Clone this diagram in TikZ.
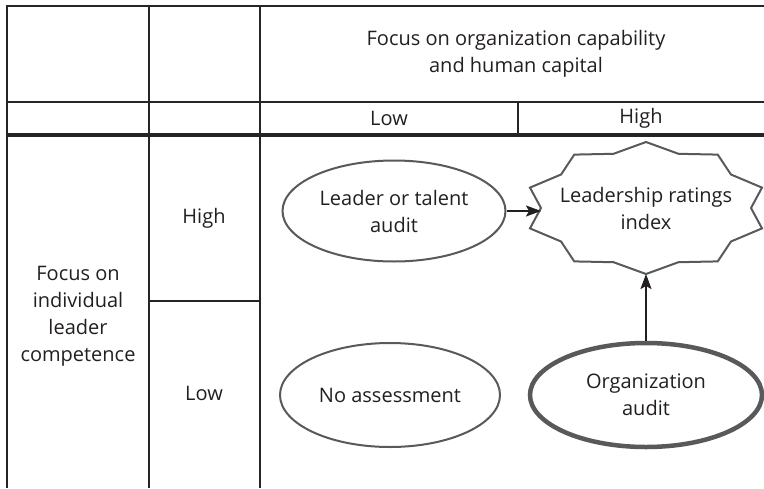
\documentclass[tikz,border=0pt]{standalone}
\usepackage{fontspec}
\setmainfont{Open Sans}
\usetikzlibrary{arrows.meta,shapes.geometric}
\definecolor{ink}{HTML}{231F20}
\definecolor{rule}{HTML}{262425}
\definecolor{outline}{HTML}{58595B}
\begin{document}
\begin{tikzpicture}[x=1pt,y=-1pt,
  grid/.style={draw=rule, line width=2pt},
  heavygrid/.style={draw=rule, line width=3.2pt},
  txt/.style={font=\fontsize{20}{27}\selectfont, text=ink, align=center, inner sep=0pt},
  oval/.style={txt, ellipse, draw=outline, line width=2pt, fill=white},
  boldoval/.style={oval, line width=4.5pt},
  starline/.style={draw=outline, line width=2pt, line join=miter},
  link/.style={draw=ink, line width=1.8pt, -{Stealth[length=15pt,width=11pt,inset=3pt]}}
]
\useasboundingbox (0,0) rectangle (764,488);

% table rules
\draw[grid] (7,6) -- (764,6);
\draw[grid] (7,102) -- (764,102);
\draw[heavygrid] (7,135) -- (764,135);
\draw[grid] (7,5) -- (7,488);
\draw[grid] (149,5) -- (149,488);
\draw[grid] (260,5) -- (260,488);
\draw[grid] (518,102) -- (518,135);
\draw[grid] (149,301) -- (260,301);

% headings
\node[txt] (colhead) at (516,54) {Focus on organization capability\\and human capital};
\node[txt] (collow) at (389,118) {Low};
\node[txt] (colhigh) at (641,118) {High};
\node[txt] (rowhigh) at (204,218) {High};
\node[txt] (rowlow) at (204,393) {Low};
\node[txt] (rowhead) at (78,316) {Focus on\\individual\\leader\\competence};

% assessment types
\node[oval, minimum width=223pt, minimum height=101pt] (lta) at (394,211) {Leader or talent\\audit};
\node[oval, minimum width=220pt, minimum height=104pt] (none) at (390,395) {No assessment};
\node[boldoval, minimum width=232pt, minimum height=104pt] (oa) at (646,395) {Organization\\audit};

% ten-pointed star round the index
\node[txt] (lri) at (646,208) {Leadership ratings\\index};
\draw[starline, shift={(lri.center)}]
  plot[samples at={0,...,19}, variable=\k]
  ({(iseven(\k) ? 122 : 105)*cos(90-18*\k)}, {-(iseven(\k) ? 66 : 57)*sin(90-18*\k)}) -- cycle;
\path[shift={(lri.center)}] (-105,0) coordinate (lri-w) (0,66) coordinate (lri-s);

% links
\draw[link] (lta.east) -- (lta.east -| lri-w);
\draw[link] (oa.north) -- (lri-s);
\end{tikzpicture}
\end{document}
